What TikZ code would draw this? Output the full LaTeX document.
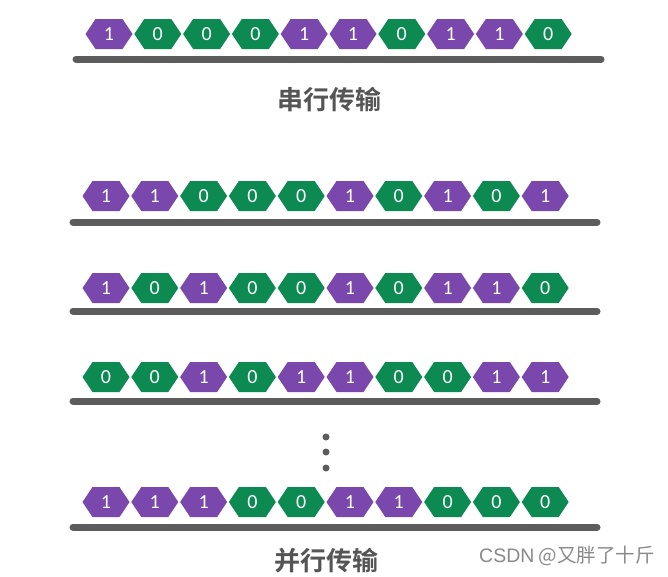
\documentclass[tikz,border=0pt]{standalone}
\usepackage{fontspec}
\newfontfamily\digitfont{Carlito}
\newfontfamily\cjkb{Noto Sans CJK SC Bold}
\newfontfamily\cjk{Noto Sans CJK SC}
\newfontfamily\wmfont{Liberation Sans}
\definecolor{bitpurple}{HTML}{7A48AC}
\definecolor{bitgreen}{HTML}{0C8A52}
\definecolor{busgray}{HTML}{5C5C5C}
\definecolor{titlegray}{HTML}{555555}
\definecolor{wmgray}{HTML}{8A8A8A}
\tikzset{
  hexfill0/.style={fill=bitgreen},
  hexfill1/.style={fill=bitpurple},
  bittext/.style={text=white,font=\digitfont\fontsize{20}{20}\selectfont,inner sep=0pt},
  busline/.style={draw=busgray,line width=7pt,line cap=round},
  titletext/.style={text=titlegray,font=\cjkb\fontsize{26}{26}\selectfont,inner sep=0pt},
  dotmark/.style={fill=busgray,circle,inner sep=0pt,minimum size=7pt},
}
\newcommand\hexrowx[6]{%
  \foreach \b [count=\i from 0] in {#4} {
    \pgfmathsetmacro\cx{#2+48.8*\i}
    \fill[hexfill\b] (\cx-23.5,#3) -- ++(10,-15) -- ++(27,0) -- ++(10,15) -- ++(-10,15) -- ++(-27,0) -- cycle;
    \node[bittext] (#1b\i) at (\cx,#3+0.5) {\b};
  }
  \path #6;
  \draw[busline] (#1L) -- (#1R);
}
\begin{document}
\begin{tikzpicture}[x=1pt,y=-1pt]
\useasboundingbox[fill=white] (0,0) rectangle (668,576);
\hexrowx{s}{109}{34}{1,0,0,0,1,1,0,1,1,0}{59}{coordinate (sL) at (76,59) coordinate (sR) at (601,59)}
\node[titletext] (t1) at (329,100) {串行传输};
\hexrowx{pa}{106}{196}{1,1,0,0,0,1,0,1,0,1}{222}{coordinate (paL) at (73,222) coordinate (paR) at (597,222)}
\hexrowx{pb}{106}{288}{1,0,1,0,0,1,0,1,1,0}{311}{coordinate (pbL) at (73,311) coordinate (pbR) at (597,311)}
\hexrowx{pc}{106}{377}{0,0,1,0,1,1,0,0,1,1}{401}{coordinate (pcL) at (73,401) coordinate (pcR) at (597,401)}
\node[dotmark] (d1) at (326,437) {};
\node[dotmark] (d2) at (326,452) {};
\node[dotmark] (d3) at (326,468) {};
\hexrowx{pd}{106}{502}{1,1,1,0,0,1,1,0,0,0}{527}{coordinate (pdL) at (73,527) coordinate (pdR) at (597,527)}
\node[titletext] (t2) at (326,561) {并行传输};
\node[text=wmgray,font=\cjk\fontsize{19.5}{19.5}\selectfont,inner sep=0pt] (wm) at (567,556) {{\wmfont CSDN} @又胖了十斤};
\end{tikzpicture}
\end{document}
